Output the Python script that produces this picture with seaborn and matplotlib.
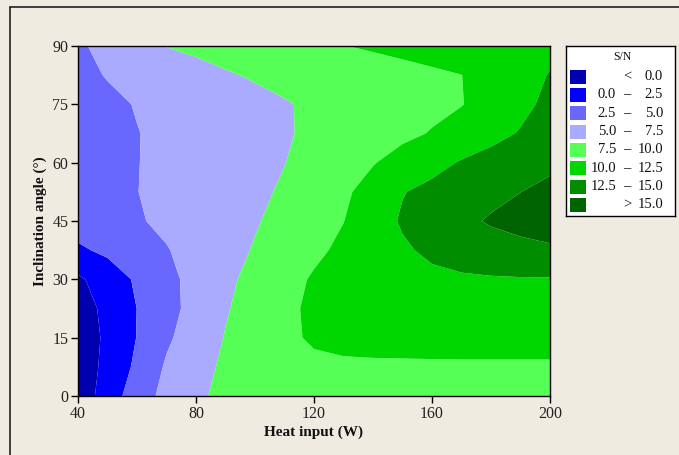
import numpy as np
import matplotlib
matplotlib.use("Agg")
import matplotlib.pyplot as plt
from matplotlib.lines import Line2D
from matplotlib.patches import Rectangle
import seaborn as sns

# Grid of the response surface: heat input (W) by inclination angle (deg)
heat_input = [40, 50, 60, 70, 80, 90, 100, 110, 120, 130, 140, 150, 160, 170, 180, 190, 200]
inclination = [0, 7.5, 15, 22.5, 30, 37.5, 45, 52.5, 60, 67.5, 75, 82.5, 90]

# S/N ratio along each inclination row
sn_0 = [-1.6, 1.19, 3.79, 5.71, 7.15, 8.0, 8.4, 8.7, 8.9, 9.0, 9.1, 9.1, 9.1, 9.1, 9.1, 9.1, 9.1]
sn_7_5 = [-1.53, 0.69, 2.97, 5.29, 6.63, 7.92, 8.5, 9.0, 9.45, 9.6, 9.6, 9.6, 9.6, 9.6, 9.6, 9.6, 9.6]
sn_15 = [-1.57, 0.50, 2.56, 4.63, 6.21, 7.61, 8.53, 9.45, 10.35, 10.7, 10.9, 11.0, 11.1, 11.2, 11.2, 11.2, 11.2]
sn_22_5 = [-1.21, 0.65, 2.52, 4.22, 5.81, 7.32, 8.42, 9.46, 10.48, 10.9, 11.2, 11.4, 11.6, 11.7, 11.8, 11.8, 11.8]
sn_30 = [-0.41, 1.22, 2.82, 4.36, 5.75, 7.04, 8.17, 9.21, 10.24, 10.9, 11.4, 11.7, 12.0, 12.2, 12.3, 12.35, 12.35]
sn_37_5 = [2.15, 2.96, 3.92, 4.88, 5.81, 6.73, 7.66, 8.60, 9.55, 10.45, 11.32, 12.19, 12.95, 13.5, 13.95, 14.3, 14.6]
sn_45 = [3.5, 4.15, 4.80, 5.44, 6.07, 6.70, 7.33, 8.16, 9.06, 9.96, 11.4, 12.75, 13.6, 14.45, 15.25, 15.8, 16.3]
sn_52_5 = [3.6, 4.29, 4.97, 5.51, 6.04, 6.57, 7.11, 7.74, 8.68, 9.62, 10.88, 12.4, 13.07, 13.71, 14.34, 14.98, 15.6]
sn_60 = [3.7, 4.33, 4.95, 5.46, 5.96, 6.46, 6.96, 7.46, 8.25, 9.07, 9.88, 10.83, 11.81, 12.68, 13.29, 13.89, 14.5]
sn_67_5 = [3.8, 4.37, 4.94, 5.43, 5.90, 6.38, 6.85, 7.32, 7.85, 8.41, 8.97, 9.53, 10.13, 10.99, 11.85, 12.65, 13.25]
sn_75 = [3.9, 4.53, 5.11, 5.56, 6.01, 6.46, 6.91, 7.36, 7.80, 8.22, 8.64, 9.07, 9.49, 9.92, 10.88, 11.97, 13.0]
sn_82_5 = [4.4, 5.12, 5.67, 6.21, 6.76, 7.30, 7.71, 8.04, 8.37, 8.69, 9.02, 9.35, 9.67, 9.98, 10.87, 11.73, 12.6]
sn_90 = [4.67, 5.65, 6.63, 7.55, 7.95, 8.35, 8.75, 9.15, 9.55, 9.95, 10.26, 10.55, 10.84, 11.13, 11.42, 11.71, 12.0]

# Contour bands and their legend text
band_edges = [-5.0, 0.0, 2.5, 5.0, 7.5, 10.0, 12.5, 15.0, 20.0]
band_colors = ["#0000B0", "#0000FF", "#6868FF", "#AAAAFF",
               "#55FF55", "#00D600", "#008E00", "#006400"]
band_low = ["", "0.0", "2.5", "5.0", "7.5", "10.0", "12.5", ""]
band_mid = ["<", "\u2013", "\u2013", "\u2013", "\u2013", "\u2013", "\u2013", ">"]
band_high = ["0.0", "2.5", "5.0", "7.5", "10.0", "12.5", "15.0", "15.0"]

x_ticks = [40, 80, 120, 160, 200]
y_ticks = [0, 15, 30, 45, 60, 75, 90]

sns.set_style("ticks")
plt.rcParams["font.family"] = ["Liberation Serif", "DejaVu Serif"]
plt.rcParams["mathtext.fontset"] = "stix"

bg = "#EFEBE1"
W, H = 679, 455
fig = plt.figure(figsize=(W / 100, H / 100), dpi=100)
fig.patch.set_facecolor(bg)

sn_grid = np.array([sn_0, sn_7_5, sn_15, sn_22_5, sn_30, sn_37_5, sn_45,
                    sn_52_5, sn_60, sn_67_5, sn_75, sn_82_5, sn_90])
palette = sns.color_palette(band_colors)

ax = fig.add_axes([78 / W, (H - 396) / H, 472 / W, 350 / H])
ax.contourf(heat_input, inclination, sn_grid, levels=band_edges, colors=palette,
            antialiased=True)
ax.set_xlim(40, 200)
ax.set_ylim(0, 90)
ax.set_xticks(x_ticks)
ax.set_yticks(y_ticks)
ax.tick_params(direction="out", length=5, width=1, color="black",
               labelsize=11.5, labelcolor="#222222", pad=2)
for s in ax.spines.values():
    s.set_visible(True)
    s.set_color("black")
    s.set_linewidth(1.0)
ax.set_xlabel("Heat input (W)", fontsize=11, fontweight="bold", labelpad=3,
              color="#111111")
ax.set_ylabel("Inclination angle (\u00b0)", fontsize=11, fontweight="bold",
              labelpad=4, color="#111111")

# Outer frame lines of the panel
fig.add_artist(Line2D([10 / W, 10 / W], [0, 1 - 7 / H], color="#222222",
                      lw=1.2, transform=fig.transFigure))
fig.add_artist(Line2D([10 / W, 1], [1 - 7 / H, 1 - 7 / H], color="#222222",
                      lw=1.2, transform=fig.transFigure))

# Legend panel drawn in pixel units
lx0, ly0, lw_, lh_ = 566, 46, 109, 170
lax = fig.add_axes([lx0 / W, (H - ly0 - lh_) / H, lw_ / W, lh_ / H])
lax.set_xlim(0, lw_)
lax.set_ylim(lh_, 0)
lax.set_facecolor("white")
lax.set_xticks([])
lax.set_yticks([])
for s in lax.spines.values():
    s.set_visible(True)
    s.set_color("black")
    s.set_linewidth(1.0)
lax.text(56, 11, "S/N", ha="center", va="center", fontsize=8.5, color="#111111")
for i, c in enumerate(palette):
    cy = 30.7 + i * 18.3
    lax.add_patch(Rectangle((4, cy - 7), 16, 14, facecolor=c, edgecolor="none"))
    if band_low[i]:
        lax.text(50, cy, band_low[i], ha="right", va="center", fontsize=10.5,
                 color="#111111")
    lax.text(61, cy, band_mid[i], ha="center", va="center", fontsize=10.5,
             color="#111111")
    lax.text(97, cy, band_high[i], ha="right", va="center", fontsize=10.5,
             color="#111111")

fig.savefig("out.png", dpi=100, facecolor=bg)
